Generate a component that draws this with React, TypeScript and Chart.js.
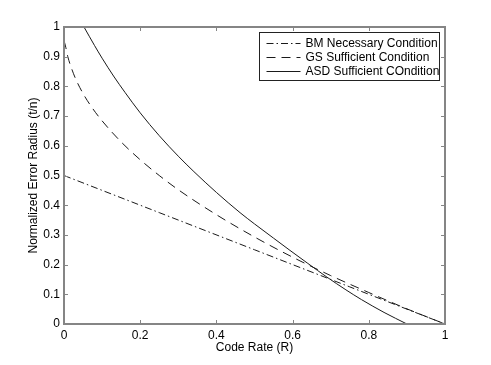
import React, { useEffect, useRef } from 'react';
import { Chart, registerables } from 'chart.js';

Chart.register(...registerables);

// ---- data ----
const bmRate = [0, 0.25, 0.5, 0.75, 1];
const bmRadius = [0.5, 0.375, 0.25, 0.125, 0];

const gsRate = [0, 0.005, 0.01, 0.02, 0.03, 0.05, 0.075, 0.1, 0.15, 0.2, 0.25, 0.3, 0.4, 0.5, 0.6, 0.7, 0.8, 0.9, 1];
const gsRadius = [0.955, 0.93, 0.9, 0.86, 0.827, 0.776, 0.726, 0.684, 0.613, 0.553, 0.5, 0.452, 0.368, 0.293, 0.225, 0.163, 0.106, 0.051, 0];

const asdRate = [0.0525, 0.08, 0.1, 0.13, 0.16, 0.2, 0.25, 0.3, 0.341, 0.4, 0.462, 0.5, 0.55, 0.593, 0.64, 0.69, 0.74, 0.781, 0.84, 0.9];
const asdRadius = [1.0, 0.938, 0.895, 0.835, 0.78, 0.711, 0.634, 0.565, 0.513, 0.443, 0.375, 0.337, 0.289, 0.248, 0.204, 0.158, 0.115, 0.082, 0.039, 0];

const seriesLabels = ['BM Necessary Condition', 'GS Sufficient Condition', 'ASD Sufficient COndition'];

const xTicks = [0, 0.2, 0.4, 0.6, 0.8, 1];
const xTickLabels = ['0', '0.2', '0.4', '0.6', '0.8', '1'];
const yTicks = [0, 0.1, 0.2, 0.3, 0.4, 0.5, 0.6, 0.7, 0.8, 0.9, 1];
const yTickLabels = ['0', '0.1', '0.2', '0.3', '0.4', '0.5', '0.6', '0.7', '0.8', '0.9', '1'];

const xTitle = 'Code Rate (R)';
const yTitle = 'Normalized Error Radius (t/n)';

const FONT = '"Liberation Sans", Arial, Helvetica, sans-serif';
const FRAME = '#858585';
const LINE = '#1a1a1a';

const toPoints = (xs: number[], ys: number[]) => xs.map((x, i) => ({ x, y: ys[i] }));

const matlabPlugin = {
  id: 'matlabFrame',
  afterDatasetsDraw(chart: any) {
    const { ctx, chartArea: ca, scales } = chart;
    ctx.save();
    // inward ticks
    ctx.strokeStyle = FRAME;
    ctx.lineWidth = 1;
    ctx.beginPath();
    const tl = 4;
    xTicks.forEach((v) => {
      const px = Math.round(scales.x.getPixelForValue(v)) + 0.5;
      ctx.moveTo(px, ca.bottom);
      ctx.lineTo(px, ca.bottom - tl);
      ctx.moveTo(px, ca.top);
      ctx.lineTo(px, ca.top + tl);
    });
    yTicks.forEach((v) => {
      const py = Math.round(scales.y.getPixelForValue(v)) + 0.5;
      ctx.moveTo(ca.left, py);
      ctx.lineTo(ca.left + tl, py);
      ctx.moveTo(ca.right, py);
      ctx.lineTo(ca.right - tl, py);
    });
    ctx.stroke();
    // frame
    ctx.lineWidth = 2;
    ctx.strokeRect(ca.left, ca.top, ca.right - ca.left, ca.bottom - ca.top);

    // legend
    const bw = 180;
    const bh = 48;
    const bx = Math.round(ca.right - 6 - bw) + 0.5;
    const by = Math.round(ca.top + 5) + 0.5;
    ctx.fillStyle = '#ffffff';
    ctx.fillRect(bx, by, bw, bh);
    ctx.strokeStyle = '#222';
    ctx.lineWidth = 1;
    ctx.strokeRect(bx, by, bw, bh);
    ctx.font = `12px ${FONT}`;
    ctx.textBaseline = 'middle';
    ctx.textAlign = 'left';
    chart.data.datasets.forEach((ds: any, i: number) => {
      const cy = Math.round(by + 10 + i * 14.4) + 0.5;
      ctx.strokeStyle = ds.borderColor;
      ctx.lineWidth = ds.borderWidth;
      ctx.setLineDash(ds.borderDash || []);
      ctx.beginPath();
      ctx.moveTo(bx + 7, cy);
      ctx.lineTo(bx + 41, cy);
      ctx.stroke();
      ctx.setLineDash([]);
      ctx.fillStyle = '#000';
      ctx.fillText(ds.label, bx + 46, cy);
    });
    ctx.restore();
  },
};

export default function App() {
  const ref = useRef<HTMLCanvasElement | null>(null);
  useEffect(() => {
    if (!ref.current) return;
    const chart = new Chart(ref.current, {
      type: 'scatter',
      data: {
        datasets: [
          {
            label: seriesLabels[0],
            data: toPoints(bmRate, bmRadius),
            showLine: true,
            borderColor: LINE,
            borderWidth: 1,
            borderDash: [7, 3, 1.5, 3],
            pointRadius: 0,
            fill: false,
          },
          {
            label: seriesLabels[1],
            data: toPoints(gsRate, gsRadius),
            showLine: true,
            borderColor: LINE,
            borderWidth: 1,
            borderDash: [9, 6],
            pointRadius: 0,
            fill: false,
            cubicInterpolationMode: 'monotone',
          },
          {
            label: seriesLabels[2],
            data: toPoints(asdRate, asdRadius),
            showLine: true,
            borderColor: LINE,
            borderWidth: 1,
            pointRadius: 0,
            fill: false,
            cubicInterpolationMode: 'monotone',
          },
        ],
      } as any,
      options: {
        responsive: false,
        animation: false,
        layout: { padding: { left: 0, right: 46, top: 27, bottom: 0 } },
        plugins: { legend: { display: false }, tooltip: { enabled: false } },
        scales: {
          x: {
            type: 'linear',
            min: 0,
            max: 1,
            grid: { display: false, drawTicks: false },
            border: { display: false },
            afterBuildTicks: (s: any) => {
              s.ticks = xTicks.map((v) => ({ value: v }));
            },
            afterFit: (s: any) => {
              s.height = 41;
            },
            ticks: {
              padding: 4,
              color: '#000',
              font: { family: FONT, size: 12 },
              maxRotation: 0,
              callback: (v: any) => {
                const i = xTicks.findIndex((t) => Math.abs(t - Number(v)) < 1e-9);
                return i >= 0 ? xTickLabels[i] : '';
              },
            },
            title: {
              display: true,
              text: xTitle,
              color: '#000',
              font: { family: FONT, size: 12 },
              padding: { top: 0, bottom: 10 },
            },
          },
          y: {
            type: 'linear',
            min: 0,
            max: 1,
            grid: { display: false, drawTicks: false },
            border: { display: false },
            afterBuildTicks: (s: any) => {
              s.ticks = yTicks.map((v) => ({ value: v }));
            },
            afterFit: (s: any) => {
              s.width = 64;
            },
            ticks: {
              padding: 4,
              color: '#000',
              font: { family: FONT, size: 12 },
              callback: (v: any) => {
                const i = yTicks.findIndex((t) => Math.abs(t - Number(v)) < 1e-9);
                return i >= 0 ? yTickLabels[i] : '';
              },
            },
            title: {
              display: true,
              text: yTitle,
              color: '#000',
              font: { family: FONT, size: 12 },
              padding: { top: 26, bottom: 0 },
            },
          },
        },
      } as any,
      plugins: [matlabPlugin],
    });
    return () => chart.destroy();
  }, []);
  return (
    <div style={{ position: 'absolute', left: 0, top: 0, width: 491, height: 365, background: '#fff' }}>
      <canvas ref={ref} width={491} height={365} style={{ display: 'block' }} />
    </div>
  );
}
